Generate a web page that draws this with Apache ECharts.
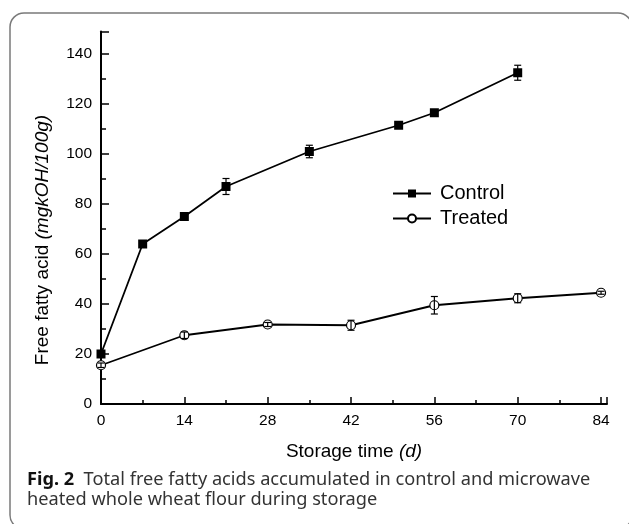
<!DOCTYPE html>
<html>
<head>
<meta charset="utf-8">
<script src="https://cdn.jsdelivr.net/npm/echarts@6/dist/echarts.min.js"></script>
<style>
  html, body { margin: 0; padding: 0; background: #fff; }
  #chart { width: 629px; height: 524px; }
</style>
</head>
<body>
<div id="chart"></div>
<script>
// storage days and free fatty acid values (mgKOH/100g)
var controlDays = [0, 7, 14, 21, 35, 50, 56, 70];
var controlFFA = [20, 64, 75, 87, 101, 111.5, 116.5, 132.5];
var controlErr = [0.6, 0.6, 0.8, 3.2, 2.5, 0.8, 0.8, 3];

var treatedDays = [0, 14, 28, 42, 56, 70, 84];
var treatedFFA = [15.5, 27.5, 31.8, 31.5, 39.5, 42.3, 44.5];
var treatedErr = [0.9, 1.3, 0.8, 2, 3.5, 1.8, 0.6];

var seriesNames = ['Control', 'Treated'];
var xTitle = 'Storage time ';
var xUnit = '(d)';
var yTitle = 'Free fatty acid ';
var yUnit = '(mgkOH/100g)';
var captionBold = 'Fig. 2';
var captionLines = [
    'Total free fatty acids accumulated in control and microwave',
    'heated whole wheat flour during storage'
];

var FONT = 'Arial, "Liberation Sans", sans-serif';

function pairs(xs, ys) {
    return xs.map(function (x, i) { return [x, ys[i]]; });
}
function errPairs(xs, ys, es) {
    return xs.map(function (x, i) { return [x, ys[i] - es[i], ys[i] + es[i]]; });
}

// error bar with small caps
function renderErr(params, api) {
    var x = api.value(0);
    var lo = api.coord([x, api.value(1)]);
    var hi = api.coord([x, api.value(2)]);
    var w = 3.5;
    var st = { stroke: '#000', lineWidth: 1.2, fill: null };
    return {
        type: 'group',
        children: [
            { type: 'line', shape: { x1: lo[0], y1: lo[1], x2: hi[0], y2: hi[1] }, style: st },
            { type: 'line', shape: { x1: lo[0] - w, y1: lo[1], x2: lo[0] + w, y2: lo[1] }, style: st },
            { type: 'line', shape: { x1: hi[0] - w, y1: hi[1], x2: hi[0] + w, y2: hi[1] }, style: st }
        ]
    };
}

var myChart = echarts.init(document.getElementById('chart'));

var option = {
    animation: false,
    backgroundColor: '#fff',
    grid: {
        left: 101,
        right: 22,
        top: 31.5,
        bottom: 120
    },
    legend: {
        orient: 'vertical',
        left: 387,
        top: 178,
        itemWidth: 38,
        itemHeight: 10,
        itemGap: 4,
        data: seriesNames,
        textStyle: {
            color: '#000',
            fontFamily: FONT,
            fontSize: 20,
            lineHeight: 21,
            padding: [0, 0, 0, 4]
        }
    },
    xAxis: {
        type: 'value',
        min: 0,
        max: 85,
        interval: 14,
        name: '{a|' + xTitle + '}{b|' + xUnit + '}',
        nameLocation: 'middle',
        nameGap: 38,
        nameTextStyle: {
            rich: {
                a: { fontFamily: FONT, fontSize: 19, color: '#000' },
                b: { fontFamily: FONT, fontSize: 19, color: '#000', fontStyle: 'italic' }
            }
        },
        axisLine: { lineStyle: { color: '#000', width: 2 } },
        axisTick: { inside: true, length: 7, lineStyle: { color: '#000', width: 1.5 } },
        minorTick: { show: true, splitNumber: 2, length: 4, lineStyle: { color: '#000', width: 1.5 } },
        axisLabel: {
            margin: 9,
            color: '#000',
            fontFamily: FONT,
            fontSize: 15.5,
            showMaxLabel: false
        },
        splitLine: { show: false }
    },
    yAxis: {
        type: 'value',
        min: 0,
        max: 149,
        interval: 20,
        axisLine: { show: true, lineStyle: { color: '#000', width: 2 } },
        axisTick: { show: true, inside: true, length: 8, lineStyle: { color: '#000', width: 1.5 } },
        minorTick: { show: true, splitNumber: 2, length: 5, lineStyle: { color: '#000', width: 1.5 } },
        axisLabel: {
            margin: 9,
            color: '#000',
            fontFamily: FONT,
            fontSize: 15.5,
            showMaxLabel: false
        },
        splitLine: { show: false }
    },
    series: [
        {
            name: seriesNames[0],
            type: 'line',
            data: pairs(controlDays, controlFFA),
            symbol: 'rect',
            symbolSize: 9,
            color: '#000',
            lineStyle: { color: '#000', width: 1.8 },
            itemStyle: { color: '#000' },
            z: 2
        },
        {
            name: seriesNames[1],
            type: 'line',
            data: pairs(treatedDays, treatedFFA),
            symbol: 'circle',
            symbolSize: 9,
            color: '#000',
            lineStyle: { color: '#000', width: 1.8 },
            itemStyle: { color: '#fff', borderColor: '#000', borderWidth: 1.2 },
            z: 2
        },
        {
            type: 'custom',
            renderItem: renderErr,
            data: errPairs(controlDays, controlFFA, controlErr),
            z: 3,
            silent: true
        },
        {
            type: 'custom',
            renderItem: renderErr,
            data: errPairs(treatedDays, treatedFFA, treatedErr),
            z: 3,
            silent: true
        }
    ],
    graphic: [
        {
            // frame round the figure
            type: 'rect',
            shape: { x: 10, y: 13, width: 622, height: 516, r: 14 },
            style: { fill: null, stroke: '#7a7a7a', lineWidth: 1.5 },
            silent: true
        },
        {
            type: 'text',
            x: 43,
            y: 240,
            rotation: Math.PI / 2,
            style: {
                text: '{a|' + yTitle + '}{b|' + yUnit + '}',
                align: 'center',
                verticalAlign: 'middle',
                rich: {
                    a: { fontFamily: FONT, fontSize: 19, fill: '#000' },
                    b: { fontFamily: FONT, fontSize: 19, fill: '#000', fontStyle: 'italic' }
                }
            }
        },
        {
            type: 'text',
            x: 27,
            y: 470,
            style: {
                text: '{b|' + captionBold + '}{n|  ' + captionLines[0] + '}\n{n|' + captionLines[1] + '}',
                rich: {
                    b: { fontFamily: '"Noto Sans"', fontSize: 18.2, fontWeight: 'bold', fill: '#111', lineHeight: 20 },
                    n: { fontFamily: '"Noto Sans"', fontSize: 18.2, fill: '#333', lineHeight: 20 }
                }
            }
        }
    ]
};

myChart.setOption(option);
myChart.resize();
</script>
</body>
</html>
